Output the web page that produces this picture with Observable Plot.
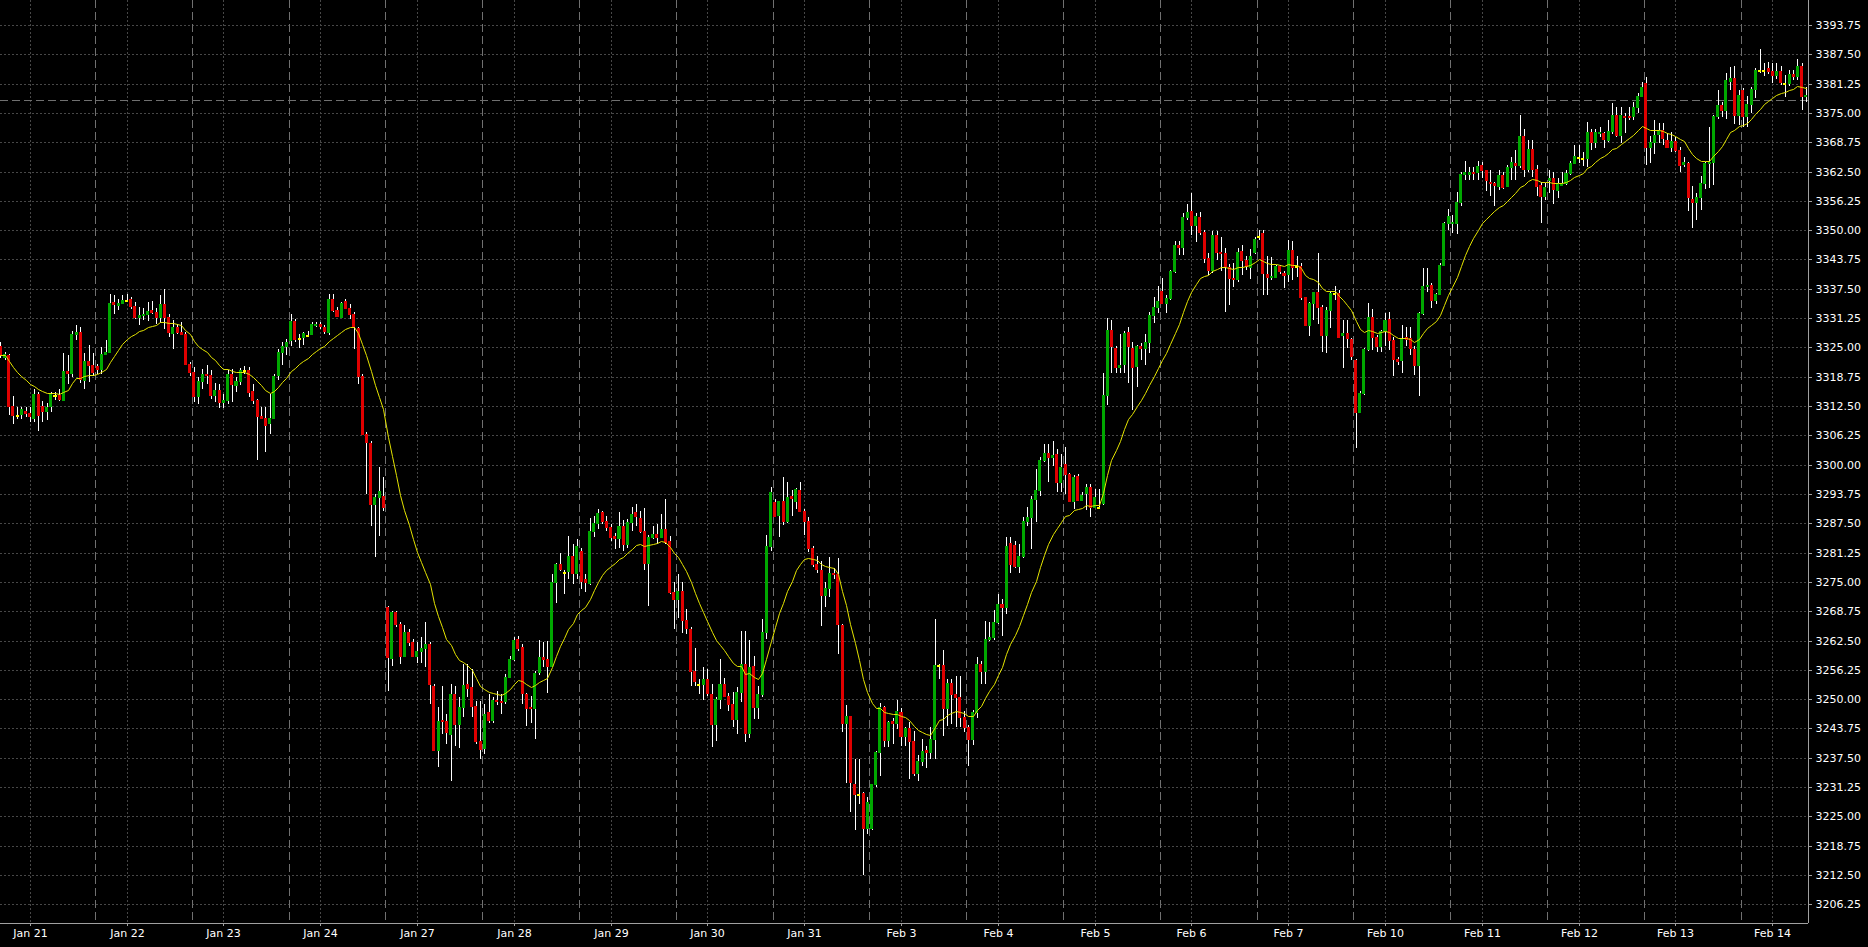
<!DOCTYPE html>
<html>
<head>
<meta charset="utf-8">
<script src="https://cdn.jsdelivr.net/npm/d3@7"></script>
<script src="https://cdn.jsdelivr.net/npm/@observablehq/plot@0.6"></script>
<style>
  html, body { margin: 0; padding: 0; background: #000; }
  #chart { width: 1868px; height: 947px; overflow: hidden; }
</style>
</head>
<body>
<div id="chart"></div>
<script>
// ---------------- DATA ----------------
const dayLabels = ["Jan 21","Jan 22","Jan 23","Jan 24","Jan 27","Jan 28","Jan 29","Jan 30","Jan 31",
  "Feb 3","Feb 4","Feb 5","Feb 6","Feb 7","Feb 10","Feb 11","Feb 12","Feb 13","Feb 14"];
const barsPerDay = [23,23,23,23,23,23,23,23,23,23,23,23,23,23,23,23,23,23,16];

const open = [
3325.4,3323.0,3323.3,3312.5,3310.5,3310.7,3311.4,3311.1,3309.9,3315.0,3312.6,3311.4,3312.5,3314.8,3314.9,3313.8,3319.9,3319.6,3327.8,3328.2,3318.1,3322.0,3321.2,
3321.0,3320.5,3323.5,3324.1,3334.7,3334.1,3334.5,3335.1,3335.4,3333.9,3331.5,3331.9,3332.1,3332.9,3332.5,3331.5,3334.3,3331.5,3328.1,3329.3,3328.3,3327.9,3321.4,
3319.7,3314.6,3317.8,3319.4,3319.2,3314.8,3316.0,3313.4,3313.8,3319.4,3316.9,3317.8,3320.2,3320.1,3315.6,3313.7,3310.4,3309.9,3308.9,3309.9,3319.2,3324.1,3325.2,
3326.5,3330.6,3327.0,3327.2,3327.7,3327.8,3329.8,3330.0,3329.3,3328.3,3335.4,3332.9,3331.5,3334.8,3333.4,3332.2,3329.2,3319.0,3306.6,3304.7,3291.6,3293.0,3293.4,
3269.7,3258.7,3268.6,3266.0,3259.2,3264.4,3262.1,3259.2,3260.3,3261.0,3261.7,3252.9,3239.1,3245.5,3245.4,3242.5,3251.1,3244.8,3248.3,3253.2,3252.6,3248.6,3241.1,
3239.6,3247.2,3245.5,3249.8,3249.7,3249.5,3254.8,3258.5,3262.8,3261.2,3251.1,3248.4,3248.2,3255.7,3259.0,3258.5,3257.1,3274.9,3278.8,3277.2,3277.4,3280.6,3277.0,
3281.6,3275.6,3274.8,3285.8,3287.5,3290.0,3287.9,3286.6,3284.8,3284.3,3287.0,3283.1,3287.7,3290.0,3288.6,3285.9,3279.0,3284.6,3285.2,3284.6,3286.3,3283.8,3272.8,
3271.3,3273.1,3266.9,3264.9,3256.0,3253.3,3253.3,3254.3,3251.1,3244.7,3250.0,3253.2,3250.7,3249.0,3245.8,3251.5,3257.5,3242.7,3257.1,3248.3,3251.0,3264.4,3282.7,
3292.0,3289.3,3292.2,3287.9,3293.4,3292.3,3294.6,3290.2,3287.9,3282.2,3278.8,3277.5,3272.1,3273.6,3277.0,3276.7,3265.7,3244.9,3246.3,3231.8,3229.7,3229.9,3222.5,
3222.6,3231.8,3238.7,3248.4,3241.2,3245.4,3244.9,3247.2,3242.2,3243.8,3241.0,3234.2,3236.9,3239.1,3238.7,3241.5,3257.2,3257.2,3248.1,3253.4,3251.1,3250.4,3246.1,
3244.1,3241.5,3247.2,3257.5,3256.1,3262.8,3263.2,3266.4,3270.3,3269.7,3283.2,3282.9,3278.4,3280.6,3287.9,3288.9,3292.7,3294.6,3300.9,3302.4,3301.7,3302.3,3296.2,
3300.1,3298.0,3292.3,3297.5,3292.5,3293.9,3295.2,3290.9,3290.9,3291.8,3314.9,3328.7,3324.8,3320.9,3321.5,3328.2,3324.8,3321.0,3325.3,3324.8,3326.2,3331.9,3333.7,
3337.0,3334.4,3335.5,3341.2,3346.9,3346.5,3352.9,3354.0,3351.1,3352.9,3349.7,3344.0,3341.4,3349.0,3345.4,3345.1,3342.2,3339.9,3339.5,3345.6,3343.6,3342.2,3345.4,
3348.8,3349.3,3340.7,3340.0,3340.1,3342.4,3340.8,3340.7,3345.8,3342.4,3342.4,3335.7,3329.8,3334.4,3336.9,3333.6,3327.7,3333.0,3336.6,3336.6,3327.7,3328.0,3326.8,
3322.3,3311.3,3315.2,3324.6,3331.4,3327.2,3325.2,3328.4,3331.0,3326.6,3322.5,3322.3,3327.3,3326.9,3324.6,3321.3,3332.3,3338.1,3338.3,3335.1,3336.4,3342.6,3351.5,
3351.5,3351.6,3356.1,3362.0,3362.0,3362.5,3362.5,3363.9,3362.8,3360.3,3360.0,3359.4,3361.8,3359.4,3363.4,3364.4,3363.9,3370.1,3363.0,3367.4,3363.0,3359.6,3357.2,
3360.7,3361.1,3358.6,3359.6,3360.0,3362.1,3364.4,3365.5,3365.3,3365.3,3371.0,3368.7,3370.7,3370.7,3369.2,3371.2,3374.6,3370.3,3374.4,3374.4,3374.4,3376.3,3378.6,
3381.3,3367.7,3368.7,3370.5,3371.4,3369.2,3367.7,3369.1,3367.0,3364.2,3364.4,3356.6,3356.1,3357.1,3360.1,3364.4,3364.6,3374.4,3376.7,3375.6,3381.9,3382.4,3374.6,
3379.8,3374.4,3376.9,3380.0,3384.2,3384.2,3384.5,3384.0,3383.1,3384.0,3381.3,3381.3,3383.4,3382.9,3385.0,3378.6
];
const high = [
3326.1,3324.0,3323.6,3314.6,3312.3,3312.3,3312.3,3312.3,3316.2,3315.5,3313.6,3313.1,3315.5,3315.5,3316.2,3323.7,3323.3,3328.6,3329.7,3329.3,3323.7,3325.6,3323.7,
3321.5,3325.1,3326.6,3336.4,3336.1,3335.4,3336.1,3336.3,3335.7,3334.7,3333.6,3333.5,3334.7,3334.9,3333.3,3336.1,3337.5,3332.2,3330.8,3330.0,3330.4,3328.3,3321.9,
3320.8,3318.7,3320.5,3321.2,3320.1,3317.4,3317.3,3315.1,3320.1,3320.5,3318.7,3320.6,3321.0,3320.8,3317.3,3314.0,3312.3,3312.3,3315.1,3319.4,3324.7,3326.1,3326.8,
3332.2,3331.1,3327.9,3328.3,3328.5,3330.4,3330.4,3330.4,3329.7,3336.4,3336.4,3333.6,3334.7,3335.4,3334.3,3332.5,3329.3,3319.4,3307.0,3305.1,3293.7,3299.5,3297.4,
3269.9,3268.8,3268.8,3266.4,3265.8,3264.9,3262.8,3262.1,3263.2,3266.4,3262.1,3253.2,3248.4,3252.9,3246.8,3253.2,3252.9,3250.4,3257.5,3257.5,3256.4,3249.7,3249.7,
3248.9,3251.1,3250.4,3251.8,3251.1,3255.3,3259.2,3263.3,3263.5,3261.7,3251.4,3250.7,3256.1,3262.6,3262.1,3262.5,3276.7,3279.1,3281.1,3277.5,3284.8,3283.1,3284.1,
3282.3,3276.7,3288.7,3289.1,3290.5,3290.2,3289.1,3287.3,3285.5,3290.0,3288.2,3288.4,3290.9,3291.7,3290.2,3290.7,3285.0,3287.0,3287.3,3289.4,3292.7,3284.8,3274.9,
3276.7,3274.9,3269.2,3265.3,3261.0,3254.3,3256.8,3256.4,3253.2,3250.4,3258.5,3254.6,3251.4,3251.5,3252.5,3264.6,3264.6,3262.6,3259.1,3252.7,3267.1,3285.1,3295.2,
3292.7,3292.3,3297.3,3296.4,3294.5,3295.0,3296.2,3290.6,3288.8,3282.7,3280.6,3279.4,3274.9,3280.2,3278.0,3280.1,3266.0,3248.8,3246.5,3237.2,3237.2,3230.1,3229.2,
3231.9,3238.9,3249.1,3248.5,3245.4,3246.0,3249.8,3248.1,3244.1,3245.1,3243.3,3238.0,3241.5,3240.1,3244.0,3267.1,3257.5,3260.4,3254.3,3254.3,3255.0,3255.0,3247.5,
3244.4,3247.6,3258.9,3258.2,3266.7,3266.5,3268.9,3272.4,3271.4,3284.5,3284.5,3283.8,3283.1,3288.8,3290.9,3293.4,3299.1,3301.6,3304.4,3304.4,3305.1,3303.3,3302.3,
3303.7,3298.2,3297.7,3298.0,3294.1,3295.9,3295.9,3294.9,3294.9,3319.5,3331.2,3330.9,3325.2,3327.9,3328.4,3329.4,3326.2,3325.5,3325.9,3327.9,3332.6,3335.8,3338.1,
3339.7,3336.2,3341.4,3347.6,3347.6,3353.6,3355.6,3358.0,3353.6,3353.9,3350.0,3345.1,3349.9,3349.9,3348.6,3346.1,3342.8,3343.1,3346.1,3346.9,3344.4,3345.9,3348.5,
3350.0,3350.0,3344.4,3344.2,3342.6,3342.6,3341.2,3347.9,3347.6,3344.5,3342.9,3335.8,3334.6,3336.9,3345.1,3334.1,3333.7,3337.1,3338.1,3337.3,3330.9,3330.9,3326.9,
3322.5,3315.6,3324.8,3334.4,3333.1,3327.7,3328.7,3332.3,3332.6,3327.3,3323.0,3329.8,3329.4,3329.4,3325.2,3332.6,3341.9,3341.9,3338.7,3336.7,3342.9,3351.8,3354.5,
3353.2,3358.2,3362.5,3364.8,3363.4,3363.5,3364.8,3364.6,3362.8,3362.8,3360.3,3362.8,3362.5,3363.9,3365.7,3367.2,3374.6,3371.5,3369.2,3369.2,3363.9,3360.3,3360.0,
3362.8,3362.5,3361.1,3362.5,3362.8,3364.8,3368.2,3368.2,3366.7,3373.1,3371.5,3371.5,3372.1,3371.0,3373.5,3377.1,3376.2,3376.2,3374.9,3376.3,3377.4,3379.3,3381.7,
3382.7,3370.1,3373.4,3372.8,3372.8,3370.7,3371.0,3369.9,3367.8,3365.7,3364.6,3359.4,3357.9,3361.5,3364.6,3371.9,3374.6,3379.9,3377.4,3383.6,3384.7,3384.9,3379.8,
3380.3,3378.6,3380.6,3384.5,3388.6,3385.7,3385.8,3385.7,3385.7,3385.0,3383.1,3384.2,3384.2,3386.4,3385.6,3380.6
];
const low = [
3322.8,3322.3,3310.5,3308.6,3309.8,3309.7,3310.2,3309.0,3309.0,3307.2,3309.0,3309.6,3311.2,3313.7,3313.5,3313.7,3317.3,3318.7,3326.5,3317.4,3316.2,3317.6,3319.0,
3319.4,3319.4,3323.3,3323.7,3332.2,3332.9,3334.3,3334.7,3333.2,3331.1,3329.7,3330.8,3330.6,3332.2,3329.9,3330.1,3329.0,3327.2,3324.7,3327.9,3327.6,3321.2,3319.0,
3313.4,3313.0,3316.2,3317.3,3314.0,3313.4,3312.0,3312.0,3313.0,3313.4,3315.5,3316.9,3319.4,3314.4,3313.0,3300.9,3309.8,3302.7,3306.6,3309.8,3318.0,3321.2,3323.3,
3325.2,3326.1,3324.9,3325.6,3327.3,3327.6,3329.3,3328.9,3327.9,3327.6,3332.5,3331.5,3331.3,3333.2,3331.1,3324.7,3317.1,3306.25,3293.75,3287.0,3280.2,3284.8,3290.2,
3251.8,3257.1,3265.3,3257.5,3258.9,3261.4,3258.9,3257.8,3257.8,3256.8,3248.9,3239.0,3235.6,3242.5,3240.4,3232.6,3240.1,3239.5,3246.1,3250.4,3246.1,3240.4,3237.2,
3238.4,3245.0,3245.0,3248.8,3246.8,3248.9,3254.6,3258.2,3260.3,3248.9,3244.3,3245.0,3241.5,3255.2,3256.8,3251.4,3256.8,3270.4,3277.4,3272.5,3275.6,3274.5,3275.6,
3273.5,3272.8,3274.4,3284.6,3286.3,3287.3,3285.8,3283.8,3282.0,3282.3,3281.6,3282.3,3285.9,3287.0,3285.5,3277.5,3269.9,3284.1,3283.1,3284.5,3283.1,3272.4,3264.9,
3267.4,3264.2,3263.9,3252.9,3252.9,3251.1,3249.8,3250.7,3239.7,3241.1,3247.9,3250.4,3247.5,3244.1,3242.6,3249.3,3240.8,3241.7,3245.8,3245.8,3250.4,3262.8,3281.6,
3288.8,3284.5,3287.2,3287.5,3289.1,3290.5,3290.1,3284.9,3281.3,3278.1,3277.0,3265.5,3269.6,3271.7,3275.6,3259.6,3242.9,3232.1,3225.9,3222.0,3227.6,3212.4,3221.2,
3222.0,3231.2,3233.7,3239.7,3239.7,3240.4,3243.6,3240.1,3240.1,3233.0,3233.7,3232.6,3235.8,3235.4,3237.2,3237.2,3254.3,3242.2,3244.2,3244.6,3244.1,3244.0,3242.9,
3235.8,3240.3,3246.0,3253.2,3253.2,3262.5,3262.6,3266.0,3263.5,3268.2,3276.8,3278.0,3277.0,3280.0,3287.0,3282.0,3287.7,3293.4,3300.5,3296.2,3299.8,3294.1,3294.1,
3293.7,3292.0,3290.6,3292.2,3292.3,3290.4,3288.9,3290.7,3290.6,3291.4,3312.7,3319.5,3319.6,3319.5,3319.5,3317.5,3311.7,3316.6,3322.3,3321.3,3323.7,3330.1,3332.3,
3334.3,3332.4,3335.1,3340.8,3344.7,3344.7,3352.2,3349.0,3347.4,3349.0,3342.9,3340.4,3340.9,3343.6,3341.2,3332.6,3334.0,3337.9,3339.0,3340.4,3341.6,3339.5,3344.9,
3347.9,3336.2,3336.2,3339.4,3339.8,3340.7,3337.6,3339.0,3339.4,3340.1,3335.1,3329.5,3327.4,3330.8,3330.0,3324.1,3323.9,3329.1,3335.1,3327.2,3320.6,3324.8,3322.3,
3303.5,3311.0,3314.9,3324.3,3324.5,3324.1,3324.1,3325.2,3324.5,3318.8,3321.2,3319.6,3325.2,3323.4,3319.1,3314.6,3331.9,3336.9,3333.4,3334.3,3336.2,3342.4,3350.0,
3349.3,3349.2,3355.2,3360.7,3360.7,3360.8,3360.8,3361.1,3358.4,3357.3,3355.2,3358.6,3358.7,3359.3,3360.8,3360.8,3363.2,3361.4,3362.5,3361.4,3357.2,3351.6,3356.4,
3357.9,3355.6,3356.8,3359.4,3359.6,3361.8,3364.3,3364.3,3363.7,3363.5,3367.1,3367.5,3369.8,3367.5,3368.9,3370.5,3369.9,3368.5,3370.7,3373.4,3373.5,3374.9,3378.5,
3363.9,3364.4,3366.3,3368.5,3368.2,3367.5,3366.7,3366.7,3362.5,3363.5,3354.0,3350.4,3352.2,3354.3,3358.7,3358.9,3359.6,3373.6,3374.1,3373.6,3379.9,3372.6,3372.4,
3371.9,3372.1,3374.9,3378.1,3383.6,3382.9,3383.4,3381.3,3382.2,3381.0,3378.5,3380.7,3382.0,3382.0,3375.6,3377.4
];
const close = [
3323.3,3323.6,3312.6,3310.5,3310.5,3311.8,3311.0,3310.3,3315.0,3310.5,3311.4,3312.3,3315.0,3314.8,3313.9,3319.9,3319.5,3327.8,3328.2,3318.3,3322.0,3321.2,3319.7,
3320.5,3323.5,3324.1,3334.4,3334.2,3334.4,3335.2,3335.1,3333.9,3331.5,3331.9,3332.2,3332.7,3332.5,3331.5,3334.3,3331.5,3328.3,3329.3,3328.2,3327.9,3321.5,3319.7,
3314.6,3317.8,3319.4,3319.2,3314.8,3316.0,3313.4,3313.8,3319.4,3317.3,3317.8,3320.1,3320.2,3315.5,3313.7,3310.4,3309.9,3308.4,3309.9,3319.0,3324.1,3325.2,3326.1,
3330.6,3326.8,3327.0,3328.1,3327.7,3329.9,3330.0,3329.5,3328.5,3335.4,3332.9,3331.8,3334.4,3333.4,3332.2,3329.5,3319.0,3306.6,3304.8,3291.6,3293.0,3294.4,3290.9,
3258.9,3268.5,3266.1,3259.2,3264.4,3262.1,3259.2,3260.3,3261.0,3261.7,3253.2,3239.1,3245.4,3245.3,3242.9,3251.1,3244.8,3248.4,3253.1,3252.4,3248.6,3241.1,3239.3,
3246.9,3245.5,3249.8,3249.5,3249.4,3254.8,3258.5,3262.6,3261.0,3251.2,3248.2,3248.1,3255.5,3259.0,3258.5,3257.1,3274.9,3278.8,3277.7,3277.2,3280.6,3277.0,3282.7,
3275.2,3274.9,3285.8,3287.5,3289.6,3287.9,3286.6,3284.6,3284.3,3287.0,3283.1,3287.7,3289.5,3289.1,3285.9,3279.0,3284.6,3285.2,3284.5,3286.3,3283.4,3272.8,3271.3,
3273.1,3266.9,3265.1,3256.0,3253.9,3253.3,3254.3,3251.4,3244.7,3250.0,3253.2,3250.7,3248.9,3245.8,3251.5,3257.5,3242.7,3256.8,3248.3,3251.0,3264.4,3282.7,3294.1,
3289.1,3292.2,3287.9,3293.2,3292.9,3294.8,3290.2,3287.9,3282.2,3278.8,3277.8,3272.1,3273.6,3277.0,3276.7,3266.0,3244.9,3246.3,3232.3,3229.8,3229.7,3222.5,3228.0,
3231.8,3238.7,3248.4,3241.2,3245.1,3244.9,3247.5,3242.2,3243.8,3241.0,3234.2,3236.9,3239.0,3238.7,3241.5,3257.3,3257.2,3248.1,3253.4,3251.1,3250.4,3246.1,3244.0,
3241.5,3247.2,3257.5,3256.1,3262.8,3263.2,3266.4,3270.3,3269.6,3282.7,3278.8,3278.3,3280.6,3287.9,3288.9,3292.7,3294.6,3300.9,3302.4,3301.6,3302.1,3296.2,3299.4,
3298.0,3292.3,3297.3,3292.5,3293.6,3295.2,3290.9,3293.2,3290.9,3314.9,3328.7,3325.2,3320.9,3321.2,3328.0,3325.2,3320.9,3325.2,3324.8,3326.2,3331.9,3333.7,3334.8,
3334.5,3335.6,3341.2,3346.9,3346.5,3352.9,3353.8,3351.1,3353.0,3349.7,3344.0,3341.4,3349.0,3345.4,3345.1,3342.4,3339.9,3339.5,3345.4,3343.6,3342.4,3344.5,3348.1,
3348.8,3340.8,3340.0,3340.2,3342.4,3341.2,3340.5,3345.8,3342.2,3342.4,3335.7,3329.8,3334.4,3336.9,3333.6,3327.7,3333.0,3336.6,3336.6,3327.3,3328.0,3327.0,3323.2,
3311.3,3315.2,3324.6,3331.4,3327.2,3325.2,3328.4,3330.9,3326.6,3322.5,3322.2,3326.7,3326.7,3324.8,3321.3,3332.3,3338.1,3338.3,3335.1,3336.4,3342.6,3351.5,3353.0,
3351.7,3356.1,3362.0,3362.5,3362.5,3362.1,3363.7,3362.8,3360.6,3360.0,3359.6,3361.8,3359.1,3363.4,3364.6,3363.9,3370.1,3363.0,3367.4,3363.0,3359.4,3357.2,3359.3,
3361.1,3358.7,3360.1,3360.1,3362.1,3364.4,3365.8,3365.5,3365.3,3371.0,3368.7,3371.0,3371.0,3369.4,3371.2,3374.6,3370.3,3374.6,3374.2,3374.2,3376.3,3378.6,3380.6,
3367.7,3368.7,3370.3,3371.4,3369.6,3367.7,3369.1,3367.0,3363.9,3364.5,3357.0,3356.1,3357.1,3360.1,3364.4,3364.6,3374.4,3376.7,3375.6,3382.0,3382.4,3374.6,3378.8,
3374.4,3376.9,3380.0,3384.2,3384.2,3384.2,3384.0,3383.1,3384.0,3381.5,3381.3,3383.4,3382.9,3385.0,3378.6,3378.9
];

const priceTicks = [3206.25,3212.50,3218.75,3225.00,3231.25,3237.50,3243.75,3250.00,3256.25,3262.50,
  3268.75,3275.00,3281.25,3287.50,3293.75,3300.00,3306.25,3312.50,3318.75,3325.00,3331.25,3337.50,
  3343.75,3350.00,3356.25,3362.50,3368.75,3375.00,3381.25,3387.50,3393.75];
const bidPrice = 3377.75;
const emaPeriod = 17;

// ---------------- CONFIG ----------------
const W = 1868, H = 947, M_RIGHT = 60, M_BOTTOM = 24;
const labelBarInDay = 7;
const yMin = 3202.26, yMax = 3399.08;
const C = {
  bg: "#000000", up: "#00a800", down: "#e00000", doji: "#ffff00", ma: "#e4e400",
  wick: "#ffffff", grid: "#474747", sep: "#707070", axis: "#a0a0a0", text: "#ffffff"
};

// ---------------- BUILD ----------------
const n = Math.min(open.length, high.length, low.length, close.length);
const bars = d3.range(n).map(i => ({i, open: open[i], high: high[i], low: low[i], close: close[i]}));
const alpha = 2 / (emaPeriod + 1);
let ema = close[0];
bars.forEach((b, i) => { ema = i === 0 ? b.close : ema + alpha * (b.close - ema); b.ema = ema; });

const dayStart = [];
{ let acc = 0; for (const c of barsPerDay) { dayStart.push(acc); acc += c; } }
const separators = dayStart.slice(1).map(s => s - 0.5);
const labelPos = dayStart.map(s => s + labelBarInDay);
const labelOf = new Map(labelPos.map((p, j) => [p, dayLabels[j]]));

const xMin = -0.07, xMax = n - 0.5;
const bodies = bars.filter(b => b.open !== b.close);
const dojis = bars.filter(b => b.open === b.close);
const hw = 0.36;

const chart = Plot.plot({
  width: W, height: H,
  marginLeft: 0, marginRight: M_RIGHT, marginTop: 0, marginBottom: M_BOTTOM,
  x: {domain: [xMin, xMax], round: true},
  y: {domain: [yMin, yMax], round: true},
  style: {background: C.bg, color: C.text, fontFamily: "DejaVu Sans, sans-serif", fontSize: "11px"},
  marks: [
    Plot.ruleY(priceTicks, {stroke: C.grid, strokeDasharray: "2,2"}),
    Plot.ruleX(labelPos, {stroke: C.grid, strokeDasharray: "2,2"}),
    Plot.ruleX(separators, {stroke: C.sep, strokeDasharray: "8,4"}),
    Plot.ruleY([bidPrice], {stroke: C.sep, strokeDasharray: "8,4"}),
    Plot.ruleX(bars, {x: "i", y1: "low", y2: "high", stroke: C.wick, strokeWidth: 1}),
    Plot.rect(bodies, {
      x1: d => d.i - hw, x2: d => d.i + hw,
      y1: "open", y2: "close", insetBottom: -1,
      fill: d => d.close > d.open ? C.up : C.down
    }),
    Plot.rect(dojis, {
      x1: d => d.i - hw, x2: d => d.i + hw,
      y1: "open", y2: "close", insetBottom: -2, fill: C.doji
    }),
    Plot.line(bars, {x: "i", y: "ema", stroke: C.ma, strokeWidth: 1}),
    Plot.ruleX([xMax], {stroke: C.axis}),
    Plot.ruleY([yMin], {stroke: C.axis}),
    Plot.axisY(priceTicks, {anchor: "right", tickSize: 3, tickPadding: 4, label: null,
      tickFormat: d => d.toFixed(2), fontSize: 11, color: C.text, stroke: C.axis}),
    Plot.axisX(labelPos, {anchor: "bottom", tickSize: 3, tickPadding: 3, label: null,
      tickFormat: d => labelOf.get(d), fontSize: 11, color: C.text, stroke: C.axis})
  ]
});
document.getElementById("chart").appendChild(chart);
</script>
</body>
</html>
